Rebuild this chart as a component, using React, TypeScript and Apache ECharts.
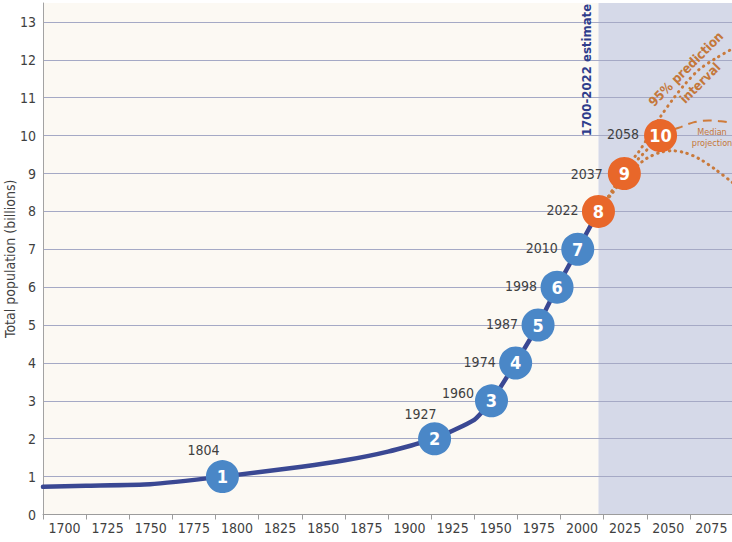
import React, { useEffect, useRef } from "react";
import * as echarts from "echarts";

// ---- data ----
const HIST_YEARS = [1700, 1725, 1762, 1804, 1850, 1875, 1900, 1927, 1950, 1960, 1974, 1987, 1998, 2010, 2022];
const HIST_POP = [0.73, 0.76, 0.8, 1.0, 1.26, 1.43, 1.66, 2.0, 2.5, 3, 4, 5, 6, 7, 8];

const MILESTONE_YEARS = [1804, 1927, 1960, 1974, 1987, 1998, 2010, 2022, 2037, 2058];
const MILESTONE_POP = [1, 2, 3, 4, 5, 6, 7, 8, 9, 10];
const MILESTONE_LABELS = ["1", "2", "3", "4", "5", "6", "7", "8", "9", "10"];
const PROJECTED_FROM = 2022;

const PATH_YEARS = [2022, 2037, 2058];
const PATH_POP = [8, 9, 10];

const BAND_YEARS = [2022, 2030, 2037, 2045, 2050, 2058, 2065, 2072, 2080, 2090, 2100];
const BAND_LOWER = [8.0, 8.48, 8.88, 9.22, 9.4, 9.56, 9.6, 9.55, 9.4, 9.1, 8.75];
const BAND_UPPER = [8.0, 8.55, 9.12, 9.55, 9.9, 10.5, 10.95, 11.35, 11.73, 12.04, 12.3];

const MEDIAN_YEARS = [2058, 2065, 2070, 2077, 2086, 2093, 2100];
const MEDIAN_POP = [10.0, 10.15, 10.23, 10.35, 10.4, 10.38, 10.33];

const X_MIN = 1700;
const X_MAX = 2100;
const X_STEP = 25;
const Y_MIN = 0;
const Y_MAX = 13.5;

const FONT = '"Liberation Sans Narrow", "DejaVu Sans Condensed", "Noto Sans", sans-serif';
const TEXT = "#3f3f3f";
const BLUE_LINE = "#3a4893";
const BLUE_DOT = "#4a87c7";
const ORANGE_DOT = "#e8672a";
const BROWN = "#c97a3c";

// year-label placement per milestone (styling only)
const YEAR_LABEL_STYLE: Record<number, any> = {
  1804: { position: "top", distance: 3, offset: [-19, 0] },
  1927: { position: "top", distance: 1, offset: [-14, 0] },
  1960: { position: "left", distance: 1, offset: [0, -8] },
  2037: { position: "left", distance: 5, offset: [0, 0] },
  2058: { position: "left", distance: 5, offset: [0, -2] },
};

export default function App() {
  const ref = useRef<HTMLDivElement>(null);

  useEffect(() => {
    if (!ref.current) return;
    const chart = echarts.init(ref.current, undefined, { renderer: "svg" });

    const hist = HIST_YEARS.map((y, i) => [y, HIST_POP[i]]);
    const path = PATH_YEARS.map((y, i) => [y, PATH_POP[i]]);
    const lower = BAND_YEARS.map((y, i) => [y, BAND_LOWER[i]]);
    const width = BAND_YEARS.map((y, i) => [y, +(BAND_UPPER[i] - BAND_LOWER[i]).toFixed(3)]);
    const upper = BAND_YEARS.map((y, i) => [y, BAND_UPPER[i]]);
    const median = MEDIAN_YEARS.map((y, i) => [y, MEDIAN_POP[i]]);

    const circles = MILESTONE_YEARS.map((y, i) => ({
      value: [y, MILESTONE_POP[i]],
      itemStyle: { color: y >= PROJECTED_FROM ? ORANGE_DOT : BLUE_DOT, opacity: 1 },
      label: { formatter: MILESTONE_LABELS[i] },
    }));

    const yearLabels = MILESTONE_YEARS.map((y, i) => {
      const s = YEAR_LABEL_STYLE[y] || { position: "left", distance: 3.5, offset: [0, -1] };
      return {
        value: [y, MILESTONE_POP[i]],
        label: { ...s, formatter: String(y) },
      };
    });

    const dotted = { width: 3, color: BROWN, type: [0.5, 5.5], cap: "round" };

    chart.setOption({
      animation: false,
      textStyle: { fontFamily: FONT },
      grid: {
        left: 43,
        top: 3,
        width: 690,
        height: 511.5,
        containLabel: false,
        outerBoundsMode: "none",
      },
      xAxis: {
        type: "value",
        min: X_MIN,
        max: X_MAX,
        interval: X_STEP,
        z: 2,
        axisLine: { lineStyle: { color: "#9c9c9c", width: 1 } },
        axisTick: { show: true, length: 5, lineStyle: { color: "#9c9c9c" } },
        splitLine: { show: false },
        axisLabel: {
          fontFamily: FONT,
          fontSize: 14,
          color: TEXT,
          margin: 6,
          padding: [0, 0, 0, 43],
          showMaxLabel: false,
          formatter: (v: number) => (v >= X_MAX ? "" : String(v)),
        },
      },
      yAxis: {
        type: "value",
        min: Y_MIN,
        max: Y_MAX,
        interval: 1,
        z: 2,
        name: "Total population (billions)",
        nameLocation: "middle",
        nameRotate: 90,
        nameGap: 26,
        nameMoveOverlap: false,
        nameTextStyle: { fontFamily: FONT, fontSize: 14, color: TEXT },
        axisLine: { show: true, lineStyle: { color: "#a3a3a3", width: 1 } },
        axisTick: { show: false },
        splitLine: { show: true, showMaxLine: false, lineStyle: { color: "#a5a9c5", width: 1 } },
        axisLabel: {
          fontFamily: FONT,
          fontSize: 14,
          color: TEXT,
          margin: 7,
          showMaxLabel: false,
          formatter: (v: number) => (Number.isInteger(v) ? String(v) : ""),
        },
      },
      graphic: [
        {
          type: "text",
          x: 586,
          y: 70,
          rotation: Math.PI / 2,
          z: 10,
          style: {
            text: "1700-2022 estimate",
            fill: "#2f3d8c",
            font: `bold 13px ${FONT}`,
            align: "center",
            verticalAlign: "middle",
          },
        },
        {
          type: "text",
          x: 693,
          y: 76,
          rotation: Math.PI / 4,
          z: 10,
          style: {
            text: "95% prediction\ninterval",
            fill: "#c4773a",
            font: `bold 13px ${FONT}`,
            lineHeight: 20,
            align: "center",
            verticalAlign: "middle",
          },
        },
        {
          type: "text",
          x: 712,
          y: 137,
          z: 10,
          style: {
            text: "Median\nprojection",
            fill: "#c4773a",
            font: `9px ${FONT}`,
            lineHeight: 11,
            align: "center",
            verticalAlign: "middle",
          },
        },
      ],
      series: [
        {
          name: "bandBase",
          type: "line",
          data: lower,
          stack: "band",
          symbol: "none",
          z: 1.5,
          smooth: 0.3,
          lineStyle: { width: 0, opacity: 0 },
          markArea: {
            silent: true,
            z: 1,
            data: [
              [{ xAxis: X_MIN, itemStyle: { color: "#fcf9f3" } }, { xAxis: PROJECTED_FROM }],
              [{ xAxis: PROJECTED_FROM, itemStyle: { color: "#d5d9e8" } }, { xAxis: X_MAX }],
            ],
          },
        },
        {
          name: "bandWidth",
          type: "line",
          data: width,
          stack: "band",
          symbol: "none",
          z: 1.5,
          smooth: 0.3,
          lineStyle: { width: 0, opacity: 0 },
          areaStyle: { color: "#f4c197", opacity: 1 },
        },
        {
          name: "upper",
          type: "line",
          data: upper,
          symbol: "none",
          smooth: 0.3,
          z: 3,
          lineStyle: dotted,
        },
        {
          name: "lower",
          type: "line",
          data: lower,
          symbol: "none",
          smooth: 0.3,
          z: 3,
          lineStyle: dotted,
        },
        {
          name: "median",
          type: "line",
          data: median,
          symbol: "none",
          smooth: 0.3,
          z: 3,
          lineStyle: { width: 2, color: "#cf7b3a", type: [9, 6] },
        },
        {
          name: "path",
          type: "line",
          data: path,
          symbol: "none",
          z: 3,
          lineStyle: dotted,
        },
        {
          name: "history",
          type: "line",
          data: hist,
          symbol: "none",
          smooth: 0.15,
          z: 4,
          lineStyle: { width: 4.5, color: BLUE_LINE, cap: "round", join: "round" },
        },
        {
          name: "yearLabels",
          type: "scatter",
          data: yearLabels,
          symbol: "circle",
          symbolSize: 33,
          z: 5,
          itemStyle: { color: "rgba(0,0,0,0)", opacity: 1 },
          label: {
            show: true,
            fontFamily: FONT,
            fontSize: 14,
            color: TEXT,
          },
        },
        {
          name: "milestones",
          type: "scatter",
          data: circles,
          symbol: "circle",
          symbolSize: 33,
          z: 6,
          itemStyle: { opacity: 1 },
          label: {
            show: true,
            position: "inside",
            fontFamily: FONT,
            fontSize: 18,
            fontWeight: "bold",
            color: "#ffffff",
          },
        },
      ],
    });

    return () => chart.dispose();
  }, []);

  return (
    <div
      ref={ref}
      style={{ position: "fixed", left: 0, top: 0, width: 732, height: 542, background: "#ffffff" }}
    />
  );
}
